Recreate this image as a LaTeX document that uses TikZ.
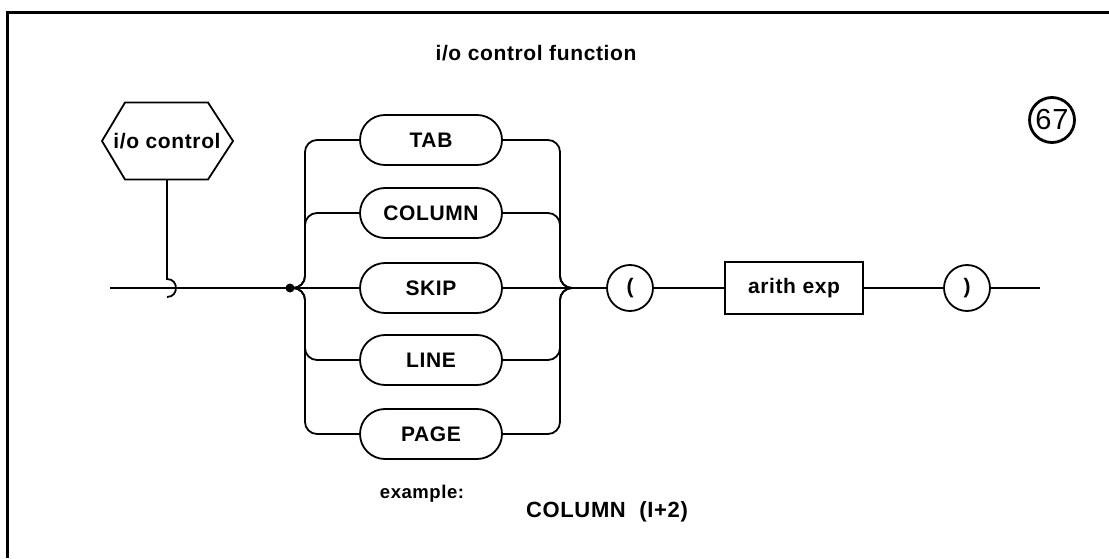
\documentclass[tikz,border=0pt]{standalone}
\usepackage{fontspec}
\setmainfont{Liberation Sans}[LetterSpace=3]
\usetikzlibrary{shapes.misc}
\begin{document}
\begin{tikzpicture}[x=1pt,y=1pt,line width=1.8pt,
  lab/.style={font=\fontsize{21}{25}\selectfont\bfseries},
  term/.style={draw, rounded rectangle, minimum width=142pt, minimum height=50pt, inner sep=0pt, lab},
  lit/.style={draw, circle, minimum size=46pt, inner sep=0pt, lab},
  nonterm/.style={draw, rectangle, minimum width=138pt, minimum height=52pt, inner sep=0pt, lab},
  rr/.style={rounded corners=12pt}]
\useasboundingbox (0,0) rectangle (1109,558);
% frame
\draw[line width=3pt] (7,0) -- (7,545) -- (1109,545);
% texts
\node[lab] (title) at (536,505) {i/o control function};
\node[draw, circle, line width=2.8pt, minimum size=45pt, inner sep=0pt, font=\fontsize{29}{31}\selectfont] (num) at (1052,438) {67};
\node[font=\fontsize{18.5}{22}\selectfont\bfseries] (ex) at (422,64) {example:};
\node[font=\fontsize{22}{26}\selectfont\bfseries] (exv) at (607,46) {COLUMN\ \ (I+2)};
% hexagon
\node[lab, inner sep=0pt] (hex) at (167,417) {i/o control};
\draw ([shift={(-65,0)}]hex.center) -- ([shift={(-42,38.5)}]hex.center) -- ([shift={(41,38.5)}]hex.center) -- ([shift={(66,0)}]hex.center) -- ([shift={(41,-38.5)}]hex.center) -- ([shift={(-42,-38.5)}]hex.center) -- cycle;
\coordinate (hexb) at ([yshift=-38.5pt]hex.center);
% nodes
\node[term] (tab) at (431,418) {TAB};
\node[term] (col) at (431,345) {COLUMN};
\node[term] (skip) at (431,270) {SKIP};
\node[term] (line) at (431,198) {LINE};
\node[term] (page) at (431,124) {PAGE};
\node[lit] (lp) at (630,270) {(};
\node[nonterm] (ae) at (794,270) {arith exp};
\node[lit] (rp) at (967,270) {)};
\coordinate (start) at (110,270);
\coordinate (hook) at (167,270);
\coordinate (endp) at (1040,270);
\coordinate (L) at (305,270);
\coordinate (R) at (560,270);
\node[fill, circle, inner sep=0pt, minimum size=9pt] (dot) at (290,270) {};
% connectors
\draw (start) -- (dot.center);
\draw (hexb) -- ([yshift=9pt]hook) .. controls +(12,0) and +(12,0) .. ([yshift=-9pt]hook);
\draw (dot.center) -- (skip.west);
\draw[rr] (dot.center) -| (L |- tab) -- (tab.west);
\draw[rr] (dot.center) -| (L |- col) -- (col.west);
\draw[rr] (dot.center) -| (L |- line) -- (line.west);
\draw[rr] (dot.center) -| (L |- page) -- (page.west);
\draw (skip.east) -- (lp.west);
\draw[rr] (tab.east) -| (R) -- (lp.west);
\draw[rr] (col.east) -| (R) -- (lp.west);
\draw[rr] (line.east) -| (R) -- (lp.west);
\draw[rr] (page.east) -| (R) -- (lp.west);
\draw (lp) -- (ae);
\draw (ae) -- (rp);
\draw (rp.east) -- (endp);
\end{tikzpicture}
\end{document}
